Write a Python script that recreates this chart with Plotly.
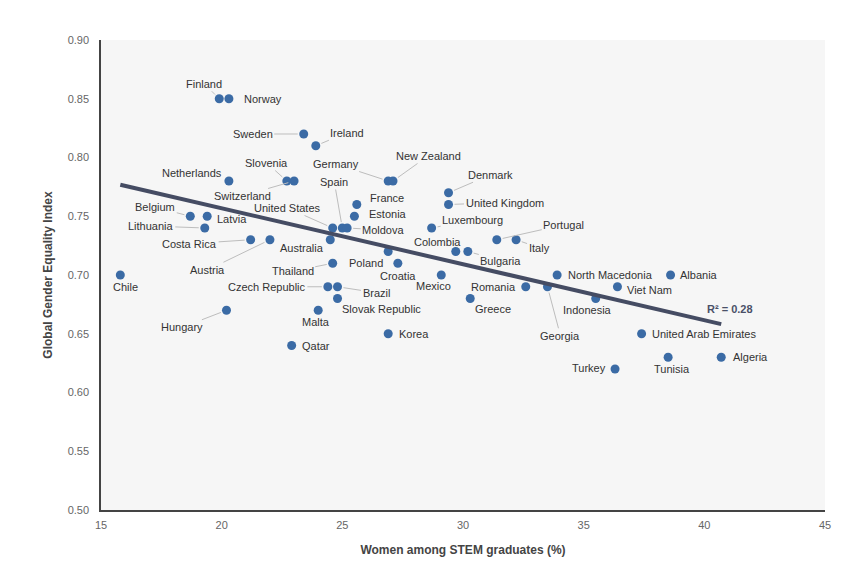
import numpy as np
import plotly.graph_objects as go

countries = ["Finland", "Norway", "Sweden", "Ireland", "Netherlands", "Slovenia", "Switzerland",
             "Germany", "New Zealand", "France", "Estonia", "United States", "Spain", "Moldova",
             "Australia", "Thailand", "Poland", "Croatia", "Belgium", "Latvia", "Lithuania",
             "Costa Rica", "Austria", "Chile", "Czech Republic", "Brazil", "Slovak Republic",
             "Malta", "Hungary", "Qatar", "Korea", "Mexico", "Greece", "Denmark", "United Kingdom",
             "Luxembourg", "Portugal", "Italy", "Colombia", "Bulgaria", "North Macedonia",
             "Romania", "Georgia", "Indonesia", "Viet Nam", "Albania", "United Arab Emirates",
             "Tunisia", "Algeria", "Turkey"]
stem_pct = [19.9, 20.3, 23.4, 23.9, 20.3, 22.7, 23.0,
            26.9, 27.1, 25.6, 25.5, 24.6, 25.0, 25.2,
            24.5, 24.6, 26.9, 27.3, 18.7, 19.4, 19.3,
            21.2, 22.0, 15.8, 24.4, 24.8, 24.8,
            24.0, 20.2, 22.9, 26.9, 29.1, 30.3, 29.4, 29.4,
            28.7, 31.4, 32.2, 29.7, 30.2, 33.9,
            32.6, 33.5, 35.5, 36.4, 38.6, 37.4,
            38.5, 40.7, 36.3]
ggei = [0.85, 0.85, 0.82, 0.81, 0.78, 0.78, 0.78,
        0.78, 0.78, 0.76, 0.75, 0.74, 0.74, 0.74,
        0.73, 0.71, 0.72, 0.71, 0.75, 0.75, 0.74,
        0.73, 0.73, 0.70, 0.69, 0.69, 0.68,
        0.67, 0.67, 0.64, 0.65, 0.70, 0.68, 0.77, 0.76,
        0.74, 0.73, 0.73, 0.72, 0.72, 0.70,
        0.69, 0.69, 0.68, 0.69, 0.70, 0.65,
        0.63, 0.63, 0.62]
x_ticks = [15, 20, 25, 30, 35, 40, 45]
y_ticks = [0.50, 0.55, 0.60, 0.65, 0.70, 0.75, 0.80, 0.85, 0.90]
r2_label = "R² = 0.28"

# label placement (layout): mode, dx, dy (screen px; dy down positive)
label_pos = {
    "Finland": ("A", -15, -15), "Norway": ("L", 13, 0), "Sweden": ("A", -51, 0),
    "Ireland": ("A", 31, -13), "Netherlands": ("R", -5, -8), "Slovenia": ("A", -20, -18),
    "Switzerland": ("A", -52, 15), "Germany": ("A", -52, -17), "New Zealand": ("A", 35, -25),
    "Spain": ("A", -8, -46), "France": ("L", 11, -7), "Estonia": ("L", 13, -2),
    "United States": ("A", -45, -20), "Moldova": ("A", 36, 2), "Australia": ("R", -4, 8),
    "Thailand": ("A", -40, 8), "Poland": ("R", -3, 11), "Croatia": ("C", 0, 13),
    "Belgium": ("A", -35, -9), "Latvia": ("L", 8, 3), "Lithuania": ("A", -54, -2),
    "Costa Rica": ("A", -61, 4), "Austria": ("A", -62, 30), "Chile": ("C", 5, 12),
    "Czech Republic": ("A", -61, 0), "Brazil": ("A", 39, 6), "Slovak Republic": ("L", 2, 10),
    "Malta": ("C", -2, 12), "Hungary": ("A", -44, 17), "Qatar": ("L", 8, 0),
    "Korea": ("L", 9, 0), "Mexico": ("C", -8, 11), "Greece": ("L", 3, 10),
    "Romania": ("R", -8, 0), "Denmark": ("A", 42, -18), "United Kingdom": ("A", 56, -2),
    "Luxembourg": ("A", 41, -8), "Portugal": ("A", 67, -15), "Italy": ("A", 23, 8),
    "Colombia": ("C", -18, -10), "Bulgaria": ("A", 33, 9), "North Macedonia": ("L", 9, 0),
    "Georgia": ("A", 13, 49), "Indonesia": ("C", -8, 11), "Viet Nam": ("L", 8, 3),
    "Albania": ("L", 7, 0), "United Arab Emirates": ("L", 8, 0), "Tunisia": ("C", 4, 12),
    "Algeria": ("L", 10, 0), "Turkey": ("R", -7, -1),
}

FONT = "Liberation Sans, Arial, Helvetica, sans-serif"
xs = np.array(stem_pct)
ys = np.array(ggei)
slope, intercept = np.polyfit(xs, ys, 1)
tx = np.array([xs.min(), xs.max()])
ty = slope * tx + intercept

fig = go.Figure()
fig.add_trace(go.Scatter(x=stem_pct, y=ggei, mode="markers",
                         marker=dict(size=9, color="#3b6ba5"), hoverinfo="text",
                         text=countries, showlegend=False))
fig.add_trace(go.Scatter(x=tx, y=ty, mode="lines", line=dict(color="#454c63", width=4),
                         showlegend=False, hoverinfo="skip"))

annotations = []
for c, x, y in zip(countries, stem_pct, ggei):
    mode, dx, dy = label_pos[c]
    base = dict(x=x, y=y, xref="x", yref="y", text=c,
                font=dict(family=FONT, size=11, color="#333333"))
    if mode == "A":
        base.update(showarrow=True, ax=dx, ay=dy, arrowhead=0, arrowwidth=1,
                    arrowcolor="#bdbdbd", standoff=6)
    else:
        anchor = {"L": "left", "R": "right", "C": "center"}[mode]
        base.update(showarrow=False, xanchor=anchor, yanchor="middle", xshift=dx, yshift=-dy)
    annotations.append(base)

annotations.append(dict(x=41.05, y=0.6713, xref="x", yref="y", text="<b>" + r2_label + "</b>",
                        showarrow=False, font=dict(family=FONT, size=11, color="#4a5068")))

fig.update_layout(
    width=863, height=574,
    margin=dict(l=93, r=46, t=32, b=72),
    paper_bgcolor="white", plot_bgcolor="#f6f6f6",
    font=dict(family=FONT, size=11, color="#666666"),
    annotations=annotations,
    xaxis=dict(range=[15, 45], tickvals=x_ticks, ticktext=[str(v) for v in x_ticks],
               showgrid=False, zeroline=False, showline=True, linecolor="#444444", linewidth=1.5,
               ticks="", tickfont=dict(size=11, color="#666666"), ticklabelstandoff=4,
               title=dict(text="<b>Women among STEM graduates (%)</b>", standoff=16,
                          font=dict(size=12, color="#444444"))),
    yaxis=dict(range=[0.5, 0.9], tickvals=y_ticks, ticktext=[f"{v:.2f}" for v in y_ticks],
               showgrid=False, zeroline=False, showline=True, linecolor="#444444", linewidth=1.5,
               ticks="", tickfont=dict(size=11, color="#666666"), ticklabelstandoff=8,
               title=dict(text="<b>Global Gender Equality Index</b>", standoff=12,
                          font=dict(size=12, color="#444444"))),
)

fig.write_html("out.html")
